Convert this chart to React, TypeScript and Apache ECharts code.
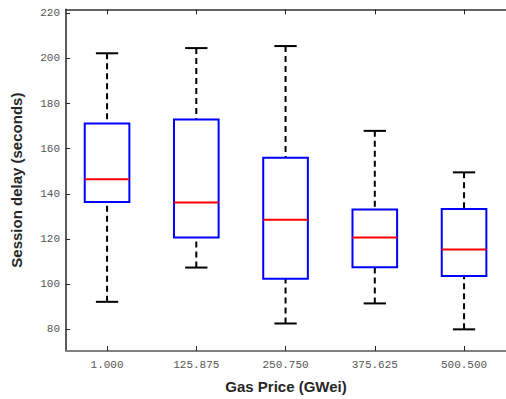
import React, { useEffect, useRef } from "react";
import * as echarts from "echarts";

const categories = ["1.000", "125.875", "250.750", "375.625", "500.500"];
const lowerWhisker = [92.1, 107.3, 82.5, 91.4, 79.9];
const q1 = [136.4, 120.6, 102.3, 107.4, 103.5];
const median = [146.4, 136.1, 128.5, 120.6, 115.3];
const q3 = [171.2, 172.9, 156.0, 133.0, 133.3];
const upperWhisker = [202.3, 204.6, 205.5, 167.9, 149.5];
const yTicks = [80, 100, 120, 140, 160, 180, 200, 220];
const xTicks = [1, 2, 3, 4, 5];

export default function App() {
  const ref = useRef<HTMLDivElement>(null);
  useEffect(() => {
    if (!ref.current) return;
    const chart = echarts.init(ref.current, null, { renderer: "svg" });
    const data = categories.map((_, i) => [
      i + 1,
      lowerWhisker[i],
      q1[i],
      median[i],
      q3[i],
      upperWhisker[i],
    ]);
    const monoLabel = {
      fontFamily: "Liberation Mono",
      fontSize: 11,
      color: "#555",
    };
    chart.setOption({
      animation: false,
      backgroundColor: "#fff",
      grid: { left: 66, right: 0, top: 9.3, bottom: 43.3 },
      xAxis: [
        {
          type: "value",
          position: "bottom",
          min: 0.54,
          max: 5.47,
          name: "Gas Price (GWei)",
          nameLocation: "middle",
          nameGap: 28,
          nameTextStyle: {
            fontFamily: "Liberation Sans",
            fontWeight: "bold",
            fontSize: 15,
            color: "#262626",
          },
          axisLine: { show: true, onZero: false, lineStyle: { color: "#808080", width: 2 } },
          axisTick: {
            show: true,
            inside: true,
            length: 5,
            customValues: xTicks,
            lineStyle: { color: "#262626", width: 1 },
          },
          axisLabel: {
            ...monoLabel,
            margin: 8,
            customValues: xTicks,
            formatter: (v: number) => categories[Math.round(v) - 1] ?? "",
          },
          splitLine: { show: false },
        },
        {
          type: "value",
          position: "top",
          min: 0.54,
          max: 5.47,
          axisLine: { show: true, onZero: false, lineStyle: { color: "#333", width: 1.5 } },
          axisTick: {
            show: true,
            inside: true,
            length: 5,
            customValues: xTicks,
            lineStyle: { color: "#262626", width: 1 },
          },
          axisLabel: { show: false },
          splitLine: { show: false },
        },
      ],
      yAxis: {
        type: "value",
        min: 70.3,
        max: 221.8,
        name: "Session delay (seconds)",
        nameLocation: "middle",
        nameGap: 42,
        nameTextStyle: {
          fontFamily: "Liberation Sans",
          fontWeight: "bold",
          fontSize: 15,
          color: "#262626",
        },
        axisLine: { show: true, onZero: false, lineStyle: { color: "#262626", width: 1.5 } },
        axisTick: {
          show: true,
          inside: true,
          length: 4,
          customValues: yTicks,
          lineStyle: { color: "#262626", width: 1 },
        },
        axisLabel: { ...monoLabel, margin: 6, customValues: yTicks },
        splitLine: { show: false },
      },
      series: [
        {
          type: "custom",
          xAxisIndex: 0,
          yAxisIndex: 0,
          encode: { x: 0, y: [1, 2, 3, 4, 5] },
          data,
          renderItem: (params: any, api: any) => {
            const x = api.value(0);
            const lo = api.coord([x, api.value(1)]);
            const b1 = api.coord([x, api.value(2)]);
            const md = api.coord([x, api.value(3)]);
            const b3 = api.coord([x, api.value(4)]);
            const hi = api.coord([x, api.value(5)]);
            const half = api.size([0.25, 0])[0];
            const cap = half / 2;
            const cx = lo[0];
            const dashStyle = { stroke: "#000", lineWidth: 2, lineDash: [6, 4], fill: null };
            const solid = { stroke: "#000", lineWidth: 2, fill: null };
            return {
              type: "group",
              children: [
                { type: "line", shape: { x1: cx, y1: hi[1], x2: cx, y2: b3[1] }, style: dashStyle },
                { type: "line", shape: { x1: cx, y1: lo[1], x2: cx, y2: b1[1] }, style: dashStyle },
                { type: "line", shape: { x1: cx - cap, y1: hi[1], x2: cx + cap, y2: hi[1] }, style: solid },
                { type: "line", shape: { x1: cx - cap, y1: lo[1], x2: cx + cap, y2: lo[1] }, style: solid },
                {
                  type: "rect",
                  shape: { x: cx - half, y: b3[1], width: half * 2, height: b1[1] - b3[1] },
                  style: { stroke: "#0000ff", lineWidth: 2, fill: "#fff" },
                },
                {
                  type: "line",
                  shape: { x1: cx - half, y1: md[1], x2: cx + half, y2: md[1] },
                  style: { stroke: "#ff0000", lineWidth: 2 },
                },
              ],
            };
          },
        },
      ],
    });
    return () => chart.dispose();
  }, []);
  return (
    <div
      ref={ref}
      style={{ position: "fixed", left: 0, top: 0, width: 506, height: 399 }}
    />
  );
}
